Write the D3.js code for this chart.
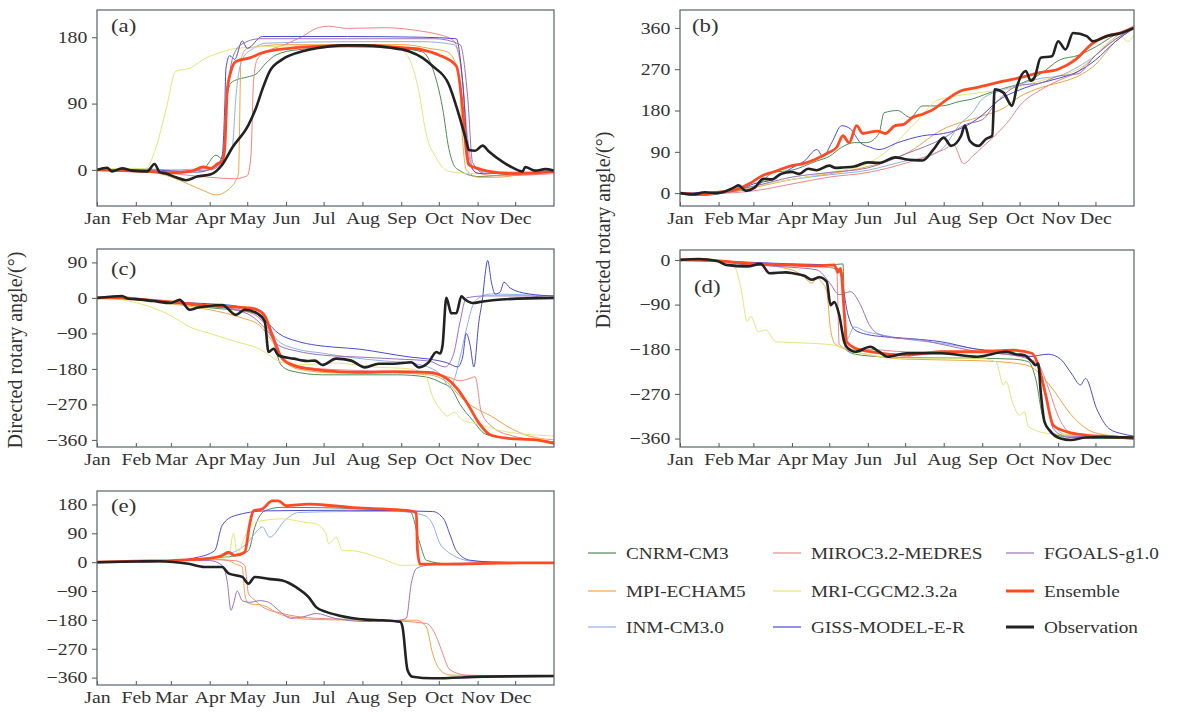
<!DOCTYPE html>
<html>
<head>
<meta charset="utf-8">
<script src="https://cdn.jsdelivr.net/npm/d3@7"></script>
<style>
  body { margin: 0; background: #fff; }
  svg text { font-family: "Liberation Serif", "Times New Roman", serif; fill: #333; }
</style>
</head>
<body>
<div id="chart"></div>
<script>
// month axis
const months = ['Jan', 'Feb', 'Mar', 'Apr', 'May', 'Jun', 'Jul', 'Aug', 'Sep', 'Oct', 'Nov', 'Dec'];
const monthStart = [0, 31, 59, 90, 120, 151, 181, 212, 243, 273, 304, 334];

// series (legend order)
const seriesNames = ['CNRM-CM3', 'MPI-ECHAM5', 'INM-CM3.0', 'MIROC3.2-MEDRES', 'MRI-CGCM2.3.2a',
  'GISS-MODEL-E-R', 'FGOALS-g1.0', 'Ensemble', 'Observation'];

// ---- panel (a) [day, angle]
const cnrmA = [[0,0],[30,-2],[60,-3],[85,2],[95,20],[100,15],[104,100],[107,118],[111,122],[120,126],[127,130],[135,145],[143,156],[160,163],[200,167],[240,165],[260,160],[268,138],[276,84],[281,29],[287,2],[305,-9],[335,-5],[365,-3]];
const mpiA = [[0,0],[30,-1],[50,-5],[60,-10],[74,-20],[85,-28],[95,-34],[106,-25],[111,-14],[113,-5],[115,150],[120,165],[150,170],[200,170],[245,170],[265,165],[280,160],[289,130],[292,40],[295,0],[305,-10],[320,-10],[340,-6],[365,-4]];
const inmA = [[0,0],[30,2],[60,0],[90,3],[100,10],[108,30],[111,100],[116,150],[125,165],[135,172],[200,174],[260,174],[285,170],[290,150],[295,60],[300,5],[310,-3],[365,-3]];
const mirocA = [[0,0],[30,0],[60,-5],[90,-10],[110,-12],[120,-8],[123,20],[125,120],[128,150],[135,160],[150,170],[165,182],[175,192],[185,195],[200,192],[230,193],[260,188],[270,185],[285,175],[292,120],[297,20],[302,-3],[320,-8],[365,-5]];
const mriA = [[0,0],[20,2],[39,2],[47,30],[55,81],[63,134],[74,138],[87,152],[100,160],[111,165],[150,168],[200,170],[240,165],[249,152],[257,107],[263,48],[271,16],[281,-2],[300,-5],[365,-4]];
const gissA = [[0,0],[40,0],[80,-3],[95,5],[100,20],[102,84],[103,138],[106,155],[110,150],[116,175],[120,165],[132,181],[200,181],[260,180],[287,178],[292,120],[297,10],[305,-5],[365,-3]];
const fgoalsA = [[0,0],[50,-2],[90,0],[100,10],[104,100],[108,150],[115,170],[130,178],[200,178],[270,178],[290,170],[296,100],[300,10],[310,-5],[365,-2]];
const ensA = [[0,0],[20,-1],[40,-2],[60,-4],[75,-2],[85,4],[91,2],[96,8],[100,12],[102,29],[104,107],[107,134],[111,147],[122,152],[132,159],[154,165],[180,168],[207,169],[244,166],[260,163],[273,156],[287,141],[292,84],[295,25],[297,7],[304,2],[313,-2],[334,-5],[365,-2]];
const obsA = [[0,0],[8,3],[12,-2],[20,2],[28,-1],[40,-2],[46,8],[50,-3],[55,-5],[63,-10],[71,-14],[80,-9],[91,-6],[100,7],[108,30],[121,61],[127,84],[132,109],[138,134],[148,150],[164,161],[175,165],[196,169],[213,169],[233,166],[249,161],[260,152],[268,141],[281,116],[289,75],[295,39],[297,27],[302,26],[308,33],[313,25],[324,11],[332,3],[340,-2],[342,4],[350,-1],[358,1],[365,-1]];

// ---- panel (b)
const cnrmB = [[0,0],[20,-5],[40,3],[59,10],[75,45],[90,50],[110,70],[120,80],[130,100],[140,110],[150,110],[160,130],[164,175],[175,180],[185,165],[195,190],[210,190],[225,200],[235,205],[245,215],[260,228],[275,240],[290,260],[305,290],[320,300],[335,320],[350,345],[365,360]];
const mpiB = [[0,0],[30,0],[59,12],[90,30],[120,42],[151,58],[181,85],[212,140],[243,168],[260,185],[273,210],[290,230],[304,240],[320,255],[334,280],[350,330],[365,358]];
const inmB = [[0,0],[31,2],[59,15],[90,30],[120,40],[151,50],[181,70],[200,80],[212,100],[225,150],[235,175],[243,205],[260,225],[273,237],[290,250],[304,255],[320,275],[334,300],[350,335],[365,358]];
const mirocB = [[0,0],[31,0],[59,5],[90,20],[120,35],[151,45],[181,65],[212,95],[220,105],[228,64],[235,80],[243,100],[255,130],[265,160],[273,190],[290,225],[304,245],[320,265],[334,300],[350,340],[365,365]];
const mriB = [[0,0],[31,2],[59,15],[90,30],[120,45],[151,65],[170,100],[181,130],[195,170],[205,200],[215,208],[230,215],[243,220],[260,225],[273,232],[290,245],[304,255],[320,270],[334,300],[345,330],[355,340],[360,330],[365,345]];
const gissB = [[0,0],[31,3],[50,10],[59,20],[75,30],[90,55],[100,70],[110,95],[115,80],[122,110],[130,147],[137,140],[145,110],[153,100],[160,95],[175,110],[195,125],[212,130],[225,140],[243,170],[255,200],[273,225],[290,240],[304,250],[320,265],[334,290],[350,330],[365,360]];
const fgoalsB = [[0,0],[31,0],[59,15],[90,35],[120,45],[151,55],[181,85],[212,120],[230,150],[243,160],[255,200],[273,235],[290,240],[304,255],[320,260],[334,300],[350,335],[365,360]];
const ensB = [[0,0],[15,-3],[31,2],[45,8],[58,24],[66,38],[75,46],[90,60],[100,65],[109,74],[120,89],[126,100],[131,125],[136,110],[142,147],[147,130],[151,132],[159,135],[165,130],[173,147],[180,150],[187,165],[195,172],[204,183],[215,205],[226,223],[235,228],[243,233],[260,244],[274,252],[288,262],[304,270],[318,291],[332,327],[343,342],[355,350],[365,360]];
const obsB = [[0,0],[10,-3],[20,2],[30,0],[44,13],[47,17],[53,5],[60,12],[67,31],[74,30],[81,42],[90,46],[96,42],[103,53],[110,50],[120,60],[125,55],[131,56],[140,58],[151,67],[160,66],[173,78],[181,74],[188,72],[195,71],[204,96],[212,121],[218,103],[226,125],[229,147],[233,114],[240,103],[246,118],[251,125],[253,226],[260,219],[267,190],[271,233],[278,266],[282,245],[285,252],[290,295],[299,298],[304,331],[310,313],[316,349],[327,342],[332,331],[343,342],[355,349],[365,360]];

// ---- panel (c)
const cnrmC = [[0,0],[31,-3],[59,-12],[90,-25],[120,-35],[132,-45],[140,-100],[147,-170],[155,-185],[180,-195],[210,-195],[240,-195],[262,-200],[275,-215],[283,-230],[290,-270],[300,-310],[310,-345],[325,-355],[350,-360],[365,-365]];
const mpiC = [[0,0],[31,-5],[59,-15],[90,-30],[115,-50],[130,-70],[140,-110],[150,-160],[160,-180],[190,-190],[230,-190],[265,-195],[280,-215],[290,-250],[300,-275],[315,-300],[330,-330],[345,-350],[365,-360]];
const inmC = [[0,0],[31,-2],[59,-10],[90,-20],[120,-30],[135,-70],[145,-110],[160,-130],[180,-140],[200,-150],[230,-160],[250,-165],[268,-180],[276,-200],[281,-225],[285,-210],[290,-150],[295,-80],[300,-20],[305,0],[315,10],[340,8],[365,5]];
const mirocC = [[0,0],[31,-3],[59,-10],[90,-20],[120,-35],[135,-70],[145,-140],[155,-170],[180,-180],[220,-185],[260,-190],[280,-200],[290,-210],[297,-205],[302,-200],[307,-290],[317,-330],[332,-350],[350,-360],[365,-365]];
const mriC = [[0,0],[20,-5],[40,-20],[59,-45],[75,-75],[90,-90],[110,-110],[130,-130],[145,-160],[160,-170],[190,-165],[220,-175],[250,-180],[262,-195],[268,-250],[275,-285],[280,-300],[285,-290],[292,-310],[305,-320],[320,-335],[340,-345],[365,-350]];
const gissC = [[0,0],[31,-3],[59,-10],[90,-15],[110,-20],[125,-35],[135,-60],[145,-90],[160,-110],[175,-120],[190,-125],[210,-130],[230,-140],[250,-150],[265,-155],[280,-165],[288,-175],[292,-150],[295,-90],[298,-120],[301,-175],[305,-60],[308,0],[310,60],[312,95],[315,40],[318,10],[322,15],[325,40],[330,25],[345,10],[365,5]];
const fgoalsC = [[0,0],[31,-3],[59,-10],[90,-20],[120,-40],[135,-80],[145,-120],[160,-135],[180,-145],[210,-150],[240,-155],[265,-160],[278,-175],[285,-140],[290,-60],[295,0],[310,5],[340,5],[365,0]];
const ensC = [[0,0],[20,0],[40,-5],[59,-10],[75,-15],[90,-20],[105,-22],[120,-25],[128,-30],[134,-45],[140,-94],[148,-154],[157,-171],[170,-180],[180,-184],[208,-189],[237,-187],[265,-189],[280,-206],[288,-231],[297,-274],[305,-317],[314,-347],[328,-356],[351,-360],[365,-369]];
const obsC = [[0,0],[10,3],[20,5],[25,-2],[31,-3],[45,-8],[59,-13],[66,-5],[74,-30],[80,-25],[88,-21],[100,-18],[111,-43],[118,-30],[128,-39],[134,-60],[137,-137],[141,-129],[145,-146],[157,-154],[168,-160],[174,-159],[180,-170],[191,-154],[203,-159],[214,-176],[225,-167],[237,-167],[251,-163],[257,-176],[265,-163],[271,-137],[274,-141],[276,-120],[279,0],[283,-39],[287,-39],[291,4],[294,-4],[300,-13],[308,-9],[323,-4],[365,0]];

// ---- panel (d)
const cnrmD = [[0,0],[31,-3],[59,-10],[90,-10],[120,-10],[131,-8],[133,-180],[141,-190],[160,-195],[182,-197],[239,-198],[268,-200],[280,-205],[286,-240],[292,-320],[300,-350],[315,-358],[365,-360]];
const mpiD = [[0,0],[31,-3],[59,-8],[90,-20],[100,-35],[106,-47],[110,-37],[114,-45],[118,-64],[121,-140],[125,-170],[141,-185],[160,-195],[182,-200],[239,-203],[275,-210],[285,-220],[297,-252],[317,-319],[332,-347],[350,-355],[365,-358]];
const inmD = [[0,0],[31,-2],[59,-10],[90,-10],[120,-15],[130,-25],[134,-160],[140,-135],[150,-145],[160,-150],[182,-160],[210,-168],[239,-180],[265,-190],[285,-195],[292,-250],[300,-330],[310,-352],[365,-358]];
const mirocD = [[0,0],[31,-2],[59,-10],[90,-12],[120,-15],[126,-20],[128,-170],[135,-180],[150,-180],[182,-185],[220,-185],[250,-188],[275,-195],[288,-210],[295,-250],[305,-320],[315,-350],[365,-357]];
const mriD = [[0,0],[31,-2],[43,-10],[49,-57],[54,-124],[57,-114],[63,-145],[69,-141],[77,-165],[106,-168],[124,-172],[141,-185],[182,-198],[239,-198],[254,-205],[260,-252],[262,-245],[268,-292],[273,-313],[277,-306],[280,-336],[297,-350],[365,-357]];
const gissD = [[0,0],[31,-2],[59,-5],[90,-8],[120,-10],[128,-20],[135,-110],[140,-140],[150,-150],[165,-155],[182,-158],[210,-165],[239,-180],[262,-185],[280,-195],[296,-190],[306,-200],[315,-230],[322,-252],[326,-239],[335,-300],[345,-340],[355,-350],[365,-355]];
const fgoalsD = [[0,0],[31,-2],[59,-10],[90,-15],[110,-20],[120,-45],[128,-70],[137,-64],[145,-90],[152,-130],[160,-150],[175,-158],[190,-160],[210,-170],[240,-185],[268,-192],[280,-200],[288,-215],[295,-280],[300,-340],[310,-355],[365,-358]];
const ensD = [[0,0],[31,-2],[59,-8],[90,-10],[110,-12],[124,-10],[127,-25],[129,-17],[132,-104],[134,-165],[141,-178],[153,-185],[182,-192],[210,-185],[239,-185],[268,-182],[283,-188],[288,-212],[294,-272],[300,-333],[312,-347],[326,-353],[351,-357],[365,-360]];
const obsD = [[0,0],[15,2],[30,-2],[37,-10],[54,-13],[65,-8],[72,-27],[85,-25],[91,-27],[100,-32],[106,-40],[112,-35],[118,-44],[121,-91],[124,-85],[128,-111],[132,-165],[135,-178],[141,-185],[153,-175],[160,-185],[167,-195],[182,-188],[210,-188],[239,-195],[262,-185],[270,-190],[277,-192],[283,-205],[286,-212],[288,-209],[290,-266],[293,-326],[297,-343],[306,-360],[314,-363],[326,-358],[340,-357],[365,-358]];

// ---- panel (e)
const cnrmE = [[0,0],[31,3],[59,5],[90,12],[110,20],[121,36],[126,109],[134,160],[147,171],[180,170],[220,165],[250,158],[258,57],[263,6],[280,-5],[320,-3],[365,-2]];
const mpiE = [[0,0],[31,3],[59,5],[90,10],[105,5],[110,-5],[116,-15],[118,-98],[121,-129],[132,-134],[148,-165],[175,-179],[228,-181],[255,-181],[263,-202],[268,-284],[274,-336],[282,-352],[365,-357]];
const inmE = [[0,0],[31,3],[59,5],[90,15],[105,25],[120,60],[128,98],[132,110],[138,78],[150,130],[161,155],[200,158],[240,158],[262,145],[268,119],[274,57],[279,36],[287,16],[300,3],[365,-2]];
const mirocE = [[0,0],[31,3],[59,5],[90,8],[110,5],[118,-10],[121,-98],[126,-118],[132,-139],[148,-160],[175,-175],[228,-181],[263,-191],[271,-232],[275,-273],[282,-336],[295,-352],[365,-357]];
const mriE = [[0,0],[31,3],[59,5],[90,10],[105,15],[109,90],[112,26],[118,78],[126,125],[148,135],[165,125],[175,119],[183,88],[185,57],[191,78],[196,36],[202,36],[228,10],[244,-10],[280,-5],[365,-2]];
const gissE = [[0,0],[31,3],[59,5],[80,15],[94,36],[100,115],[110,145],[135,160],[202,162],[268,158],[277,134],[282,85],[287,36],[298,6],[320,0],[365,-2]];
const fgoalsE = [[0,0],[31,3],[59,5],[90,5],[100,-10],[104,-60],[107,-150],[109,-130],[112,-90],[116,-120],[122,-125],[130,-120],[137,-125],[145,-150],[155,-175],[165,-170],[175,-160],[190,-175],[215,-185],[240,-182],[247,-175],[251,-67],[255,-20],[263,-10],[290,-3],[365,-2]];
const ensE = [[0,0],[31,3],[59,5],[75,8],[90,12],[100,21],[105,31],[110,21],[118,31],[122,119],[125,160],[132,166],[140,191],[145,191],[151,176],[169,181],[188,176],[202,171],[228,166],[250,160],[255,155],[256,36],[258,-6],[282,-6],[320,-3],[365,-2]];
const obsE = [[0,0],[31,2],[50,3],[73,-5],[86,-15],[100,-15],[105,-35],[116,-46],[121,-67],[126,-46],[137,-52],[148,-57],[159,-78],[169,-109],[175,-140],[183,-155],[193,-166],[215,-179],[228,-181],[242,-186],[244,-202],[248,-336],[252,-357],[268,-362],[309,-357],[365,-355]];

// y tick values per panel
const ticksA = [0, 90, 180];
const ticksB = [0, 90, 180, 270, 360];
const ticksC = [90, 0, -90, -180, -270, -360];
const ticksD = [0, -90, -180, -270, -360];
const ticksE = [180, 90, 0, -90, -180, -270, -360];

// styling
const colors = ['#4f8c55', '#f3a444', '#8db0ea', '#ef8585', '#e6e57c', '#4b4bcc', '#9a72b8', '#ff4a24', '#222222'];
const widths = [1, 1, 1, 1, 1, 1, 1, 2.8, 2.6];

const width = 1179, height = 716;
const stretch = 'scale(1.2,1)';  // the original lettering is set wide

const panels = [
  { tag: '(a)', series: [cnrmA, mpiA, inmA, mirocA, mriA, gissA, fgoalsA, ensA, obsA], ticks: ticksA,
    box: { l: 97, r: 554, t: 10, b: 206 }, yDomain: [-49, 217], tagPos: [111, 32] },
  { tag: '(b)', series: [cnrmB, mpiB, inmB, mirocB, mriB, gissB, fgoalsB, ensB, obsB], ticks: ticksB,
    box: { l: 680, r: 1134, t: 10, b: 206 }, yDomain: [-28, 399], tagPos: [692, 32] },
  { tag: '(c)', series: [cnrmC, mpiC, inmC, mirocC, mriC, gissC, fgoalsC, ensC, obsC], ticks: ticksC,
    box: { l: 97, r: 554, t: 249, b: 447 }, yDomain: [-378, 124], tagPos: [111, 275] },
  { tag: '(d)', series: [cnrmD, mpiD, inmD, mirocD, mriD, gissD, fgoalsD, ensD, obsD], ticks: ticksD,
    box: { l: 680, r: 1134, t: 250, b: 447 }, yDomain: [-377, 20], tagPos: [694, 293] },
  { tag: '(e)', series: [cnrmE, mpiE, inmE, mirocE, mriE, gissE, fgoalsE, ensE, obsE], ticks: ticksE,
    box: { l: 97, r: 554, t: 491, b: 685 }, yDomain: [-383, 222], tagPos: [111, 512] }
];

const svg = d3.select('#chart')
  .append('svg')
  .attr('width', width)
  .attr('height', height);

const fmt = d => d < 0 ? '\u2212' + Math.abs(d) : String(d);

panels.forEach((p, i) => {
  const { l, r, t, b } = p.box;
  const x = d3.scaleLinear().domain([0, 365]).range([l, r]);
  const y = d3.scaleLinear().domain(p.yDomain).range([b, t]);

  const g = svg.append('g').attr('class', 'panel');

  svg.append('clipPath')
    .attr('id', 'clip' + i)
    .append('rect')
    .attr('x', l).attr('y', t)
    .attr('width', r - l).attr('height', b - t);

  const line = d3.line()
    .x(d => x(d[0]))
    .y(d => y(d[1]))
    .curve(d3.curveMonotoneX);

  // models first, ensemble and observation on top
  g.append('g')
    .attr('clip-path', `url(#clip${i})`)
    .selectAll('path')
    .data(p.series)
    .join('path')
    .attr('d', line)
    .attr('fill', 'none')
    .attr('stroke', (d, k) => colors[k])
    .attr('stroke-width', (d, k) => widths[k])
    .attr('stroke-linejoin', 'round');

  // y axis
  const yAxis = g.append('g')
    .attr('transform', `translate(${l},0)`)
    .call(d3.axisLeft(y).tickValues(p.ticks).tickFormat(fmt).tickSize(5).tickPadding(3));
  yAxis.select('.domain').remove();
  yAxis.selectAll('line').attr('stroke', '#555');
  yAxis.selectAll('text')
    .attr('font-size', 16.5)
    .attr('fill', '#333')
    .attr('transform', stretch);

  // x axis, ticks pointing in
  const xAxis = g.append('g')
    .attr('transform', `translate(0,${b})`)
    .call(d3.axisBottom(x).tickValues(monthStart).tickFormat((d, k) => months[k]).tickSize(-4).tickPadding(6));
  xAxis.select('.domain').remove();
  xAxis.selectAll('line').attr('stroke', '#555');
  xAxis.selectAll('text')
    .attr('font-size', 16.5)
    .attr('fill', '#333')
    .attr('transform', stretch);

  // frame
  g.append('rect')
    .attr('x', l).attr('y', t)
    .attr('width', r - l).attr('height', b - t)
    .attr('fill', 'none')
    .attr('stroke', '#56636a')
    .attr('stroke-width', 1.2);

  g.append('text')
    .attr('transform', `translate(${p.tagPos[0]},${p.tagPos[1]}) ${stretch}`)
    .attr('font-size', 19)
    .text(p.tag);
});

// axis titles
[[15, 350], [603, 230]].forEach(([cx, cy]) => {
  svg.append('text')
    .attr('transform', `translate(${cx},${cy}) rotate(-90)`)
    .attr('text-anchor', 'middle')
    .attr('dy', '0.35em')
    .attr('font-size', 20)
    .text('Directed rotary angle/(\u00b0)');
});

// legend: three columns of three
const legendX = [588, 773, 1006];
const legendY = [553, 591, 627];
const legend = svg.append('g').attr('class', 'legend');
seriesNames.forEach((name, k) => {
  const col = Math.floor(k / 3), row = k % 3;
  const item = legend.append('g')
    .attr('transform', `translate(${legendX[col]},${legendY[row]})`);
  item.append('line')
    .attr('x1', 0).attr('x2', 28)
    .attr('stroke', colors[k])
    .attr('stroke-width', widths[k] > 1 ? 3 : 1.2);
  item.append('text')
    .attr('transform', 'translate(38,0) scale(1.1,1)')
    .attr('dy', '0.35em')
    .attr('font-size', 17.5)
    .text(name);
});
</script>
</body>
</html>
